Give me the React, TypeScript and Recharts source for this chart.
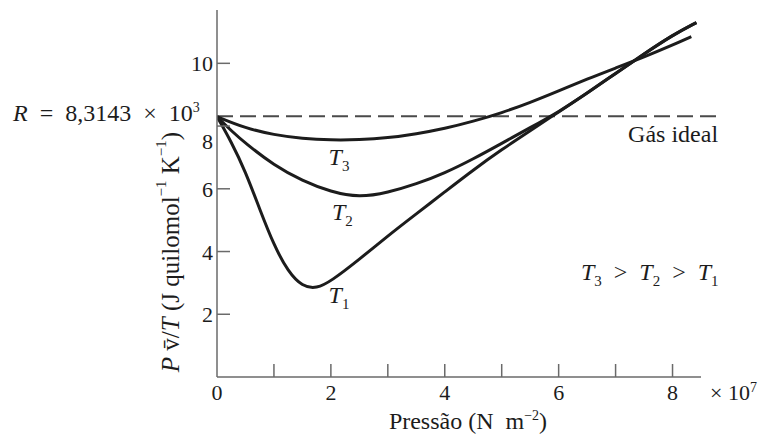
import { LineChart, Line, XAxis, YAxis, ReferenceLine, ReferenceDot } from 'recharts'

// P v/T de um gás real em três temperaturas (T3 > T2 > T1), pressão em 10^7 N m^-2
const R_IDEAL = 8.3143

const t3Pressure = [0, 0.5, 1, 1.5, 2, 2.5, 3, 3.5, 4, 4.5, 5, 5.5, 6, 6.5, 7, 7.5, 8, 8.33]
const t3Values = [8.3, 7.93, 7.72, 7.6, 7.55, 7.56, 7.62, 7.75, 7.92, 8.15, 8.42, 8.75, 9.12, 9.5, 9.85, 10.2, 10.58, 10.85]

const t2Pressure = [0, 0.25, 0.5, 1, 1.5, 2, 2.5, 3, 3.5, 4, 4.5, 5, 5.5, 6, 6.5, 7, 7.5, 8, 8.42]
const t2Values = [8.3, 7.85, 7.45, 6.75, 6.25, 5.9, 5.72, 5.88, 6.15, 6.5, 6.95, 7.45, 7.95, 8.45, 9.05, 9.68, 10.3, 10.9, 11.3]

const t1Pressure = [0, 0.25, 0.5, 0.75, 1, 1.25, 1.5, 1.75, 2, 2.5, 3, 3.5, 4, 4.5, 5, 5.5, 6, 6.5, 7, 7.5, 8, 8.42]
const t1Values = [8.3, 7.5, 6.55, 5.35, 4.2, 3.35, 2.88, 2.82, 3.05, 3.75, 4.5, 5.2, 5.9, 6.6, 7.25, 7.85, 8.45, 9.05, 9.68, 10.3, 10.9, 11.3]

const xTicks = [0, 1, 2, 3, 4, 5, 6, 7, 8]
const yTicks = [2, 4, 6, 8, 10]

const toPoints = (xs: number[], ys: number[]) => xs.map((p, i) => ({ p, v: ys[i] }))

const INK = '#1c1c1c'
const AXIS = '#6a6a6a'
const FONT = '"Liberation Serif", "DejaVu Serif", serif'
const SP = '\u00A0'

function PressureTick(props: any) {
  const { x, y, payload } = props
  const v = payload.value
  return (
    <g>
      {v !== 0 && <line x1={x} y1={y} x2={x} y2={y - 13} stroke={AXIS} strokeWidth={1.5} />}
      {v % 2 === 0 && (
        <text x={x} y={y + 23} textAnchor="middle" fontFamily={FONT} fontSize={22} fill={INK}>
          {v}
        </text>
      )}
    </g>
  )
}

function ValueTick(props: any) {
  const { x, y, payload } = props
  const v = payload.value
  // o "8" fica deslocado para baixo por causa do R
  const shift = v === 8 ? 15 : 0
  return (
    <g>
      <line x1={x} y1={y} x2={x + 13} y2={y} stroke={AXIS} strokeWidth={1.5} />
      <text x={x - 4} y={y + 8 + shift} textAnchor="end" fontFamily={FONT} fontSize={22} fill={INK}>
        {v}
      </text>
    </g>
  )
}

function TLabel(sub: string) {
  return (props: any) => {
    const { viewBox } = props
    const cx = viewBox.x + viewBox.width / 2
    const cy = viewBox.y + viewBox.height / 2
    return (
      <text x={cx - 8} y={cy + 8} fontFamily={FONT} fontSize={24} fill={INK} fontStyle="italic">
        T<tspan dy={6} fontSize={15} fontStyle="normal">{sub}</tspan>
      </text>
    )
  }
}

function OrderLabel(props: any) {
  const { viewBox } = props
  const cx = viewBox.x + viewBox.width / 2
  const cy = viewBox.y + viewBox.height / 2
  const gap = `${SP}${SP}>${SP}${SP}`
  return (
    <text x={cx} y={cy + 8} textAnchor="middle" fontFamily={FONT} fontSize={24} fill={INK}>
      <tspan fontStyle="italic">T</tspan>
      <tspan dy={6} fontSize={15}>3</tspan>
      <tspan dy={-6}>{gap}</tspan>
      <tspan fontStyle="italic">T</tspan>
      <tspan dy={6} fontSize={15}>2</tspan>
      <tspan dy={-6}>{gap}</tspan>
      <tspan fontStyle="italic">T</tspan>
      <tspan dy={6} fontSize={15}>1</tspan>
    </text>
  )
}

function IdealLabel(props: any) {
  const { viewBox } = props
  const y = viewBox.y
  const right = viewBox.x + viewBox.width
  return (
    <g fontFamily={FONT} fill={INK}>
      <text x={right} y={y + 26} textAnchor="end" fontSize={24}>
        Gás ideal
      </text>
      <text x={13} y={y + 5} fontSize={24}>
        <tspan fontStyle="italic">R</tspan>
        <tspan>{`${SP}${SP}=${SP}${SP}8,3143${SP}${SP}×${SP}${SP}10`}</tspan>
        <tspan dy={-9} fontSize={14}>3</tspan>
      </text>
    </g>
  )
}

function XLabel(props: any) {
  const { viewBox } = props
  const cx = viewBox.x + viewBox.width / 2 + 9
  const top = viewBox.y
  return (
    <g fontFamily={FONT} fill={INK}>
      <text x={cx} y={top + 52} textAnchor="middle" fontSize={24}>
        {`Pressão${SP}(N${SP}${SP}m`}
        <tspan dy={-9} fontSize={14}>−2</tspan>
        <tspan dy={9}>)</tspan>
      </text>
      <text x={viewBox.x + viewBox.width + 9} y={top + 23} fontSize={22}>
        ×{SP}10<tspan dy={-8} fontSize={14}>7</tspan>
      </text>
    </g>
  )
}

function YLabel(props: any) {
  const { viewBox } = props
  const cx = viewBox.x - 7
  const cy = viewBox.y + 242
  return (
    <text
      x={cx}
      y={cy}
      transform={`rotate(-90, ${cx}, ${cy})`}
      textAnchor="middle"
      dominantBaseline="central"
      fontFamily={FONT}
      fontSize={25}
      fill={INK}
    >
      <tspan fontStyle="italic">P</tspan>
      <tspan>{`${SP}v\u0304/`}</tspan>
      <tspan fontStyle="italic">T</tspan>
      <tspan>{`${SP}(J${SP}quilomol`}</tspan>
      <tspan dy={-9} fontSize={15}>−1</tspan>
      <tspan dy={9}>{`${SP}K`}</tspan>
      <tspan dy={-9} fontSize={15}>−1</tspan>
      <tspan dy={9}>)</tspan>
    </text>
  )
}

export default function App() {
  return (
    <div style={{ position: 'absolute', left: 0, top: 0, width: 763, height: 444, background: '#fff' }}>
      <LineChart width={763} height={444} margin={{ top: 10, right: 62, bottom: 37, left: 177 }}>
        <XAxis
          dataKey="p"
          type="number"
          domain={[0, 8.5]}
          allowDataOverflow
          ticks={xTicks}
          tickSize={0}
          tickMargin={0}
          tickLine={false}
          height={30}
          axisLine={{ stroke: AXIS, strokeWidth: 1.5 }}
          tick={PressureTick}
          label={XLabel}
        />
        <YAxis
          type="number"
          domain={[0, 11.7]}
          allowDataOverflow
          ticks={yTicks}
          tickSize={0}
          tickMargin={0}
          tickLine={false}
          width={40}
          axisLine={{ stroke: AXIS, strokeWidth: 1.5 }}
          tick={ValueTick}
          label={YLabel}
        />
        <ReferenceLine
          segment={[{ x: 0, y: R_IDEAL }, { x: 8.8, y: R_IDEAL }]}
          ifOverflow="visible"
          stroke="#4a4a4a"
          strokeWidth={2}
          strokeDasharray="16 7"
          label={IdealLabel}
        />
        <Line data={toPoints(t3Pressure, t3Values)} dataKey="v" type="basis" dot={false} stroke={INK} strokeWidth={3} isAnimationActive={false} />
        <Line data={toPoints(t2Pressure, t2Values)} dataKey="v" type="basis" dot={false} stroke={INK} strokeWidth={3} isAnimationActive={false} />
        <Line data={toPoints(t1Pressure, t1Values)} dataKey="v" type="basis" dot={false} stroke={INK} strokeWidth={3} isAnimationActive={false} />
        <ReferenceDot x={2.1} y={7.0} r={0} fill="none" stroke="none" label={TLabel('3')} />
        <ReferenceDot x={2.16} y={5.25} r={0} fill="none" stroke="none" label={TLabel('2')} />
        <ReferenceDot x={2.1} y={2.6} r={0} fill="none" stroke="none" label={TLabel('1')} />
        <ReferenceDot x={7.6} y={3.35} r={0} fill="none" stroke="none" label={OrderLabel} />
      </LineChart>
    </div>
  )
}
